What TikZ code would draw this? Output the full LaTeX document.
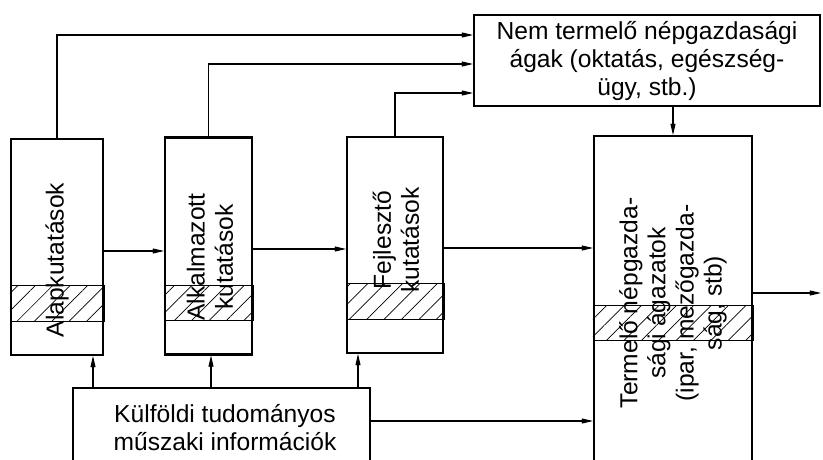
\documentclass[tikz,border=0pt]{standalone}
\usepackage{fontspec}
\setmainfont{Liberation Sans}
\usetikzlibrary{arrows.meta,patterns.meta,calc}

\begin{document}
\begin{tikzpicture}[
    x=0.02cm, y=-0.02cm,
    box/.style={rectangle, draw, line width=1.2pt, inner sep=0pt},
    txt/.style={align=center, font=\fontsize{14}{16}\selectfont, inner sep=0pt},
    vtxt/.style={txt, rotate=90},
    hatch/.style={draw, line width=0.4pt, pattern={Lines[angle=45,distance=7pt,line width=0.4pt]}},
    arrow/.style={-{Stealth[length=3.6mm,width=1.7mm,inset=2mm]}, line width=0.7pt}
]
    \useasboundingbox (0,0) rectangle (823,460);
    \clip (0,0) rectangle (823,460);

    % research boxes
    \node [box, minimum width=1.84cm, minimum height=4.32cm] (alap) at (57,247) {};
    \node [box, minimum width=1.74cm, minimum height=4.34cm] (alk) at (208.5,246) {};
    \node [box, minimum width=1.92cm, minimum height=4.32cm] (fej) at (395,245) {};
    \node [box, minimum width=6.92cm, minimum height=1.82cm] (nem) at (647,60.5) {};
    \node [box, minimum width=3.16cm, minimum height=6.88cm] (term) at (673,308) {};
    \node [box, minimum width=5.94cm, minimum height=1.84cm] (kulf) at (221.5,434) {};
    \coordinate (out) at (821,293);

    % hatched bands
    \path [hatch] (alap.west |- 0,285) rectangle (alap.east |- 0,321);
    \path [hatch] (alk.west |- 0,285) rectangle (alk.east |- 0,320);
    \path [hatch] (fej.west |- 0,283) rectangle (fej.east |- 0,319);
    \path [hatch] (term.west |- 0,305) rectangle (term.east |- 0,340);

    % texts
    \node [vtxt] (alaptxt) at (57,260) {Alapkutatások};
    \node [vtxt] (alktxt) at (210,257) {Alkalmazott\\kutatások};
    \node [vtxt] (fejtxt) at (396,240) {Fejlesztő\\kutatások};
    \node [vtxt] (termtxt) at (673,303) {Termelő népgazda-\\sági ágazatok\\(ipar, mezőgazda-\\ság, stb)};
    \node [txt] (nemtxt) at (647,61) {Nem termelő népgazdasági\\ágak (oktatás, egészség-\\ügy, stb.)};
    \node [txt] (kulftxt) at (225,428) {Külföldi tudományos\\műszaki információk};

    % connectors
    \draw [arrow] (alap.north) |- (nem.west |- 0,35);
    \draw [arrow] (alk.north) |- (nem.west |- 0,64);
    \draw [arrow] (fej.north) |- (nem.west |- 0,93);
    \draw [arrow] (nem.south -| term.north) -- (term.north);
    \draw [arrow] (alap.east |- 0,251) -- (alk.west |- 0,251);
    \draw [arrow] (alk.east |- 0,249) -- (fej.west |- 0,249);
    \draw [arrow] (fej.east |- 0,248) -- (term.west |- 0,248);
    \draw [arrow] (term.east |- out) -- (out);
    \draw [arrow] (kulf.north -| 93,0) -- (alap.south -| 93,0);
    \draw [arrow] (kulf.north -| 211,0) -- (alk.south -| 211,0);
    \draw [arrow] (kulf.north -| 358,0) -- (fej.south -| 358,0);
    \draw [arrow] (kulf.east |- 0,421) -- (term.west |- 0,421);
\end{tikzpicture}
\end{document}
